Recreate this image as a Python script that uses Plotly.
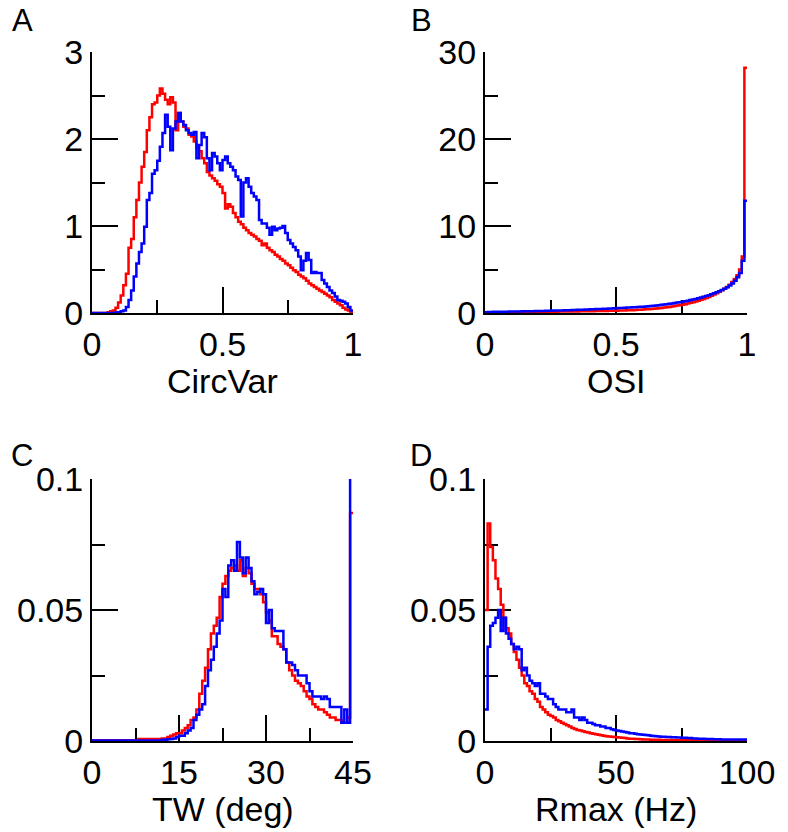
import numpy as np
import plotly.graph_objects as go

# ---------------- data ----------------
circvar_edges = np.round(np.arange(0, 1.0001, 0.01), 4)
circvar_red = [0, 0, 0, 0, 0, 0, 0.01, 0.02, 0.03, 0.06,
               0.12, 0.2, 0.32, 0.45, 0.75, 0.85, 1.1, 1.3, 1.5, 1.68,
               1.85, 2.1, 2.25, 2.4, 2.42, 2.5, 2.58, 2.52, 2.45, 2.4,
               2.48, 2.42, 2.1, 2.3, 2.2, 2.14, 2.12, 2.05, 2.03, 1.97,
               1.9, 1.86, 1.78, 1.72, 1.62, 1.58, 1.55, 1.52, 1.48, 1.45,
               1.38, 1.2, 1.25, 1.22, 1.15, 1.1, 1.05, 1.02, 0.98, 0.95,
               0.92, 0.9, 0.88, 0.85, 0.83, 0.78, 0.8, 0.75, 0.72, 0.7,
               0.67, 0.65, 0.62, 0.6, 0.57, 0.55, 0.52, 0.49, 0.47, 0.44,
               0.42, 0.4, 0.37, 0.34, 0.32, 0.3, 0.28, 0.26, 0.24, 0.22,
               0.2, 0.18, 0.15, 0.13, 0.11, 0.09, 0.06, 0.04, 0.03, 0.01]
circvar_blue = [0, 0, 0, 0, 0, 0, 0, 0, 0, 0.005,
                0.01, 0.02, 0.03, 0.07, 0.15, 0.26, 0.42, 0.57, 0.7, 0.8,
                0.99, 1.3, 1.38, 1.6, 1.64, 1.75, 1.91, 2.07, 2.28, 2.14,
                1.87, 2.12, 2.2, 2.3, 2.2, 2.16, 2.1, 2.07, 2.05, 2.08,
                1.78, 1.93, 2.07, 2.02, 1.78, 1.64, 1.84, 1.8, 1.72, 1.64,
                1.76, 1.8, 1.72, 1.68, 1.64, 1.57, 1.53, 1.11, 1.5, 1.55,
                1.45, 1.38, 1.34, 1.3, 1.07, 1.03, 1.03, 0.98, 0.9, 0.99,
                0.95, 0.97, 0.98, 1.0, 0.92, 0.84, 0.8, 0.76, 0.72, 0.65,
                0.49, 0.6, 0.69, 0.61, 0.46, 0.47, 0.46, 0.46, 0.38, 0.34,
                0.3, 0.26, 0.23, 0.19, 0.15, 0.14, 0.13, 0.11, 0.07, 0.03]

osi_edges = np.round(np.arange(0, 1.0001, 0.01), 4)
osi_red = [0.05, 0.08, 0.08, 0.08, 0.09, 0.09, 0.09, 0.1, 0.1, 0.1,
           0.1, 0.1, 0.11, 0.11, 0.11, 0.12, 0.12, 0.12, 0.12, 0.13,
           0.13, 0.13, 0.14, 0.14, 0.14, 0.15, 0.15, 0.15, 0.16, 0.16,
           0.16, 0.17, 0.17, 0.18, 0.18, 0.18, 0.19, 0.19, 0.2, 0.2,
           0.21, 0.21, 0.22, 0.22, 0.23, 0.23, 0.24, 0.25, 0.25, 0.26,
           0.27, 0.28, 0.29, 0.3, 0.31, 0.32, 0.33, 0.35, 0.36, 0.38,
           0.4, 0.42, 0.44, 0.46, 0.49, 0.52, 0.55, 0.58, 0.62, 0.66,
           0.7, 0.75, 0.8, 0.85, 0.9, 0.96, 1.02, 1.1, 1.17, 1.25,
           1.33, 1.42, 1.52, 1.62, 1.73, 1.85, 1.98, 2.12, 2.28, 2.45,
           2.62, 2.8, 3.0, 3.25, 3.55, 3.9, 4.35, 5.0, 6.5, 28.2]
osi_blue = [0.1, 0.12, 0.12, 0.13, 0.13, 0.14, 0.14, 0.15, 0.15, 0.16,
            0.16, 0.17, 0.17, 0.18, 0.19, 0.19, 0.2, 0.21, 0.21, 0.22,
            0.23, 0.23, 0.24, 0.25, 0.26, 0.27, 0.28, 0.28, 0.29, 0.3,
            0.31, 0.32, 0.33, 0.34, 0.35, 0.36, 0.37, 0.38, 0.4, 0.41,
            0.42, 0.43, 0.45, 0.46, 0.47, 0.49, 0.5, 0.51, 0.53, 0.54,
            0.55, 0.57, 0.58, 0.6, 0.62, 0.63, 0.65, 0.67, 0.69, 0.71,
            0.73, 0.76, 0.78, 0.81, 0.84, 0.87, 0.9, 0.94, 0.98, 1.02,
            1.06, 1.1, 1.15, 1.2, 1.25, 1.3, 1.36, 1.42, 1.48, 1.55,
            1.62, 1.7, 1.78, 1.86, 1.95, 2.05, 2.15, 2.26, 2.38, 2.5,
            2.63, 2.78, 2.95, 3.15, 3.4, 3.7, 4.1, 4.6, 6.0, 12.9]

tw_edges = np.round(np.arange(0, 45.0001, 0.5), 4)
tw_red = [0.0003] * 16 + [0.0008] * 8 + [
    0.001, 0.001, 0.0015, 0.002, 0.0025, 0.003,
    0.003, 0.004, 0.005, 0.006, 0.008, 0.009, 0.012, 0.018, 0.023, 0.028,
    0.035, 0.041, 0.044, 0.047, 0.055, 0.06, 0.063, 0.065, 0.066, 0.067,
    0.065, 0.069, 0.063, 0.066, 0.064, 0.06, 0.058, 0.058, 0.056, 0.053,
    0.049, 0.046, 0.04, 0.04, 0.037, 0.036, 0.035, 0.03, 0.027, 0.025,
    0.023, 0.022, 0.021, 0.019, 0.017, 0.016, 0.014, 0.013, 0.012, 0.012,
    0.011, 0.01, 0.009, 0.009, 0.008, 0.008, 0.007, 0.007, 0.009, 0.087]
tw_blue = [0.0002] * 24 + [
    0.0005, 0.0005, 0.0007, 0.0008, 0.001, 0.0015,
    0.002, 0.002, 0.003, 0.004, 0.005, 0.008, 0.01, 0.012, 0.014, 0.021,
    0.027, 0.031, 0.036, 0.041, 0.046, 0.058, 0.055, 0.067, 0.069, 0.065,
    0.076, 0.07, 0.064, 0.07, 0.066, 0.061, 0.056, 0.057, 0.058, 0.056,
    0.045, 0.05, 0.043, 0.042, 0.042, 0.042, 0.035, 0.03, 0.03, 0.029,
    0.027, 0.025, 0.025, 0.025, 0.022, 0.019, 0.017, 0.017, 0.017, 0.016,
    0.017, 0.016, 0.013, 0.013, 0.013, 0.013, 0.007, 0.012, 0.007, 0.15]

rmax_edges = np.round(np.arange(0, 100.0001, 1.0), 4)
rmax_red = [0.05, 0.083, 0.074, 0.069, 0.062, 0.058, 0.052, 0.047, 0.043, 0.041,
            0.037, 0.034, 0.031, 0.028, 0.025, 0.022, 0.021, 0.019, 0.018, 0.016,
            0.015, 0.013, 0.012, 0.011, 0.01, 0.0095, 0.009, 0.008, 0.0075, 0.007,
            0.0065, 0.006, 0.0055, 0.005, 0.0046, 0.0042, 0.004, 0.0037, 0.0034, 0.0032,
            0.003, 0.0028, 0.0026, 0.0024, 0.0022, 0.002, 0.0018, 0.0017, 0.0016, 0.0015,
            0.0014, 0.0013, 0.0012, 0.0011, 0.001, 0.0009, 0.0009, 0.0008, 0.0008, 0.0007,
            0.0006, 0.0006, 0.0006, 0.0005, 0.0005, 0.0005, 0.0005, 0.0004, 0.0004, 0.0004,
            0.0004, 0.0004, 0.0003, 0.0003, 0.0003, 0.0003, 0.0003, 0.0003, 0.0003, 0.0003,
            0.0002, 0.0002, 0.0002, 0.0002, 0.0002, 0.0002, 0.0002, 0.0002, 0.0002, 0.0002,
            0.0002, 0.0002, 0.0002, 0.0002, 0.0002, 0.0002, 0.0002, 0.0002, 0.0002, 0.0002]
rmax_blue = [0.012, 0.036, 0.044, 0.045, 0.047, 0.05, 0.042, 0.047, 0.041, 0.039,
             0.037, 0.035, 0.036, 0.035, 0.027, 0.028, 0.025, 0.023, 0.022, 0.021,
             0.022, 0.018, 0.018, 0.017, 0.016, 0.016, 0.014, 0.013, 0.012, 0.012,
             0.012, 0.011, 0.011, 0.012, 0.009, 0.009, 0.008, 0.009, 0.008, 0.007,
             0.007, 0.0065, 0.006, 0.006, 0.0055, 0.0055, 0.005, 0.005, 0.0045, 0.0042,
             0.004, 0.0038, 0.0036, 0.0034, 0.0032, 0.003, 0.003, 0.0028, 0.0026, 0.0025,
             0.0024, 0.0023, 0.0022, 0.002, 0.0019, 0.0018, 0.0017, 0.0016, 0.0016, 0.0015,
             0.0015, 0.0014, 0.0014, 0.0013, 0.0013, 0.0012, 0.0012, 0.0011, 0.0011, 0.001,
             0.001, 0.0009, 0.0009, 0.0009, 0.0008, 0.0008, 0.0008, 0.0007, 0.0007, 0.0007,
             0.0006, 0.0006, 0.0006, 0.0006, 0.0006, 0.0006, 0.0006, 0.0006, 0.0006, 0.0006]

panel_letters = ["A", "B", "C", "D"]
x_titles = ["CircVar", "OSI", "TW (deg)", "Rmax (Hz)"]

# ---------------- figure ----------------
W, H = 788, 832
FONT = "Liberation Sans, Arial, Helvetica, sans-serif"
RED, BLUE = "#ff0000", "#0000ff"
FS = 34

fig = go.Figure()

panels = [
    dict(edges=circvar_edges, red=circvar_red, blue=circvar_blue,
         xr=[0, 1], yr=[0, 3], xd=0.5, xm=0.25, yd=1, ym=0.5),
    dict(edges=osi_edges, red=osi_red, blue=osi_blue,
         xr=[0, 1], yr=[0, 30], xd=0.5, xm=0.25, yd=10, ym=5),
    dict(edges=tw_edges, red=tw_red, blue=tw_blue,
         xr=[0, 45], yr=[0, 0.1], xd=15, xm=7.5, yd=0.05, ym=0.025),
    dict(edges=rmax_edges, red=rmax_red, blue=rmax_blue,
         xr=[0, 100], yr=[0, 0.1], xd=50, xm=25, yd=0.05, ym=0.025),
]

# pixel boxes (left, right, top, bottom)
boxes = [(92, 353, 52, 313), (485, 747, 52, 313),
         (92, 353, 479, 741), (485, 747, 479, 741)]

for i, (p, b) in enumerate(zip(panels, boxes)):
    k = "" if i == 0 else str(i + 1)
    xa, ya = "x" + k, "y" + k
    for vals, col in ((p["red"], RED), (p["blue"], BLUE)):
        xs = list(p["edges"])
        ys = list(vals) + [vals[-1]]
        fig.add_trace(go.Scatter(x=xs, y=ys, mode="lines", line_shape="hv",
                                 line=dict(color=col, width=2.5),
                                 xaxis=xa, yaxis=ya, showlegend=False,
                                 hoverinfo="skip"))
    l, r, t, bt = b
    common = dict(showline=True, linecolor="black", linewidth=2,
                  ticks="inside", ticklen=26, tickwidth=2, tickcolor="black",
                  showgrid=False, zeroline=False, layer="below traces",
                  automargin=False,
                  tickfont=dict(family=FONT, size=FS, color="black"))
    fig.layout["xaxis" + k] = dict(
        domain=[l / W, r / W], range=p["xr"], anchor=ya, tick0=0, dtick=p["xd"],
        minor=dict(ticks="inside", ticklen=13, tickwidth=2, tickcolor="black",
                   dtick=p["xm"], tick0=0, showgrid=False), **common)
    fig.layout["yaxis" + k] = dict(
        domain=[1 - bt / H, 1 - t / H], range=p["yr"], anchor=xa, tick0=0, dtick=p["yd"],
        minor=dict(ticks="inside", ticklen=13, tickwidth=2, tickcolor="black",
                   dtick=p["ym"], tick0=0, showgrid=False), **common)
    # axis title
    fig.add_annotation(x=(l + r) / 2 / W, y=1 - (bt + 68) / H, xref="paper", yref="paper",
                       text=x_titles[i], showarrow=False, xanchor="center", yanchor="middle",
                       font=dict(family=FONT, size=FS, color="black"))

letter_pos = [(22, 21), (421, 21), (22, 455), (421, 455)]
for lt, (lx, ly) in zip(panel_letters, letter_pos):
    fig.add_annotation(x=lx / W, y=1 - ly / H, xref="paper", yref="paper", text=lt,
                       showarrow=False, xanchor="center", yanchor="middle",
                       font=dict(family=FONT, size=31, color="black"))

fig.update_layout(template="none", width=W, height=H,
                  margin=dict(l=0, r=0, t=0, b=0, pad=0),
                  paper_bgcolor="white", plot_bgcolor="white")

fig.write_html("out.html")
